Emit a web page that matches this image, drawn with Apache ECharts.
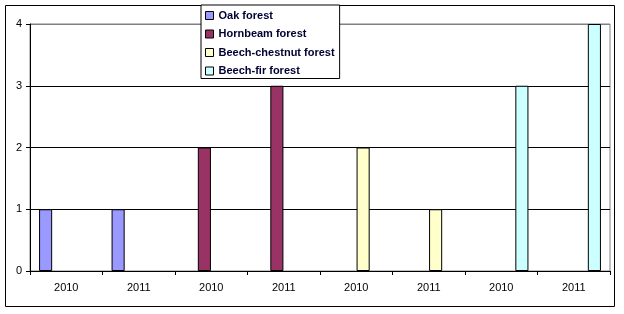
<!DOCTYPE html>
<html><head><meta charset="utf-8">
<script src="https://cdn.jsdelivr.net/npm/echarts@6/dist/echarts.min.js"></script>
<style>html,body{margin:0;padding:0;background:#fff}#c{width:624px;height:314px}</style>
</head><body><div id="c"></div>
<script>
const categories = ['2010','2011','2010','2011','2010','2011','2010','2011'];
const oakForest = [1, 1, null, null, null, null, null, null];
const hornbeamForest = [null, null, 2, 3, null, null, null, null];
const beechChestnutForest = [null, null, null, null, 2, 1, null, null];
const beechFirForest = [null, null, null, null, null, null, 3, 4];
const seriesNames = ['Oak forest','Hornbeam forest','Beech-chestnut forest','Beech-fir forest'];
const yTicks = [0, 1, 2, 3, 4];

const colors = ['#9999FF','#993366','#FFFFCC','#CCFFFF'];
const dataSets = [oakForest, hornbeamForest, beechChestnutForest, beechFirForest];
const font = 'Liberation Sans, Arial, sans-serif';

const chart = echarts.init(document.getElementById('c'), null, {renderer:'canvas'});
chart.setOption({
  animation: false,
  backgroundColor: '#fff',
  graphic: [{
    type: 'rect', z: 0, silent: true,
    shape: {x: 5.5, y: 5.5, width: 609, height: 301},
    style: {fill: null, stroke: '#000', lineWidth: 1}
  }],
  grid: {left: 30, right: 14, top: 24, bottom: 43, show: true, borderColor: '#808080', borderWidth: 1, backgroundColor: 'transparent'},
  legend: {
    orient: 'vertical', left: 201, top: 5,
    itemWidth: 8, itemHeight: 8, itemGap: 7.5,
    padding: [5, 5, 2, 4],
    backgroundColor: '#fff', borderColor: '#000', borderWidth: 1,
    textStyle: {fontFamily: font, fontWeight: 'bold', fontSize: 11, color: '#000033'},
    icon: 'rect',
    itemStyle: {borderColor: '#000', borderWidth: 1},
    data: seriesNames
  },
  xAxis: {
    type: 'category', data: categories,
    axisLine: {lineStyle: {color: '#000', width: 1}},
    axisTick: {show: true, length: 4, lineStyle: {color: '#000'}},
    axisLabel: {fontFamily: font, fontSize: 11, color: '#000', margin: 11},
    splitLine: {show: false}
  },
  yAxis: {
    type: 'value', min: 0, max: 4, interval: 1,
    axisLine: {show: true, lineStyle: {color: '#000', width: 1}},
    axisTick: {show: true, length: 4, lineStyle: {color: '#000'}},
    axisLabel: {fontFamily: font, fontSize: 11, color: '#000', margin: 8,
      formatter: v => yTicks.includes(v) ? String(v) : ''},
    splitLine: {show: true, lineStyle: {color: ['#000','#000','#000','#000','#808080'], width: 1}}
  },
  series: seriesNames.map((n, i) => ({
    name: n, type: 'bar', data: dataSets[i],
    barCategoryGap: '25%', barGap: '5%',
    itemStyle: {color: colors[i], borderColor: '#000', borderWidth: 1},
    z: 3
  }))
});
</script></body></html>
